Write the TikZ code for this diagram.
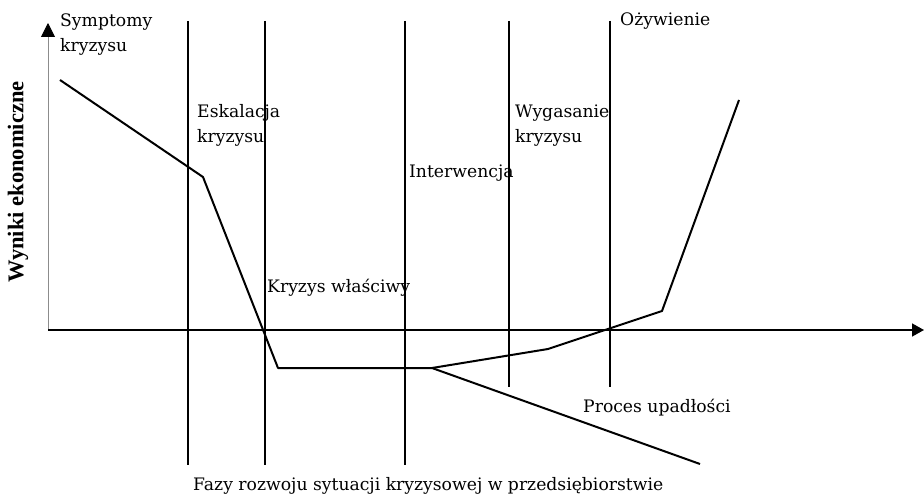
\documentclass[tikz,border=0pt]{standalone}
\usepackage{fontspec}
\setmainfont{DejaVu Serif}
\newfontfamily\axisfont{Liberation Serif}
\usetikzlibrary{arrows.meta}
\begin{document}
\begin{tikzpicture}[x=1pt,y=-1pt,
  phase/.style={line width=1.9pt,black},
  curve/.style={line width=2pt,black,line join=round},
  axisline/.style={line width=1.7pt},
  lbl/.style={anchor=base west,inner sep=0pt,font=\fontsize{17.2}{25}\selectfont,align=left},
]
\useasboundingbox (0,0) rectangle (924,497);
% axes
\coordinate (O) at (48,330);
\coordinate (ytop) at (48,23);
\coordinate (xend) at (924,330);
\draw[line width=0.9pt,black!45,-{Triangle[black,length=14pt,width=14pt]}] (O) -- (ytop);
\draw[axisline,-{Triangle[length=12pt,width=13pt]}] (O) -- (xend);
% phase boundaries
\foreach \n/\x/\b in {a/188/465,b/265/465,c/405/465,d/509/387,e/610/387}{
  \coordinate (\n top) at (\x,21);
  \coordinate (\n bot) at (\x,\b);
  \draw[phase] (\n top) -- (\n bot);
}
% economic results curve
\coordinate (p1) at (60,80);
\coordinate (p2) at (203,177);
\coordinate (p3) at (278,368);
\coordinate (p4) at (432,368);
\coordinate (p5) at (548,349);
\coordinate (p6) at (662,311);
\coordinate (p7) at (739,100);
\coordinate (p8) at (700,464);
\draw[curve] (p1) -- (p2) -- (p3) -- (p4) -- (p5) -- (p6) -- (p7);
\draw[curve] (p4) -- (p8);
% labels (anchored at the baseline of the last line)
\node[lbl] (symptomy) at (60,52) {Symptomy\\kryzysu};
\node[lbl] (eskalacja) at (197,143) {Eskalacja\\kryzysu};
\node[lbl] (interwencja) at (409,178) {Interwencja};
\node[lbl] (wygasanie) at (515,143) {Wygasanie\\kryzysu};
\node[lbl] (ozywienie) at (620,26) {Ożywienie};
\node[lbl] (kryzys) at (267,293) {Kryzys właściwy};
\node[lbl] (upadlosc) at (583,412) {Proces upadłości};
\node[lbl] (fazy) at (193,490) {Fazy rozwoju sytuacji kryzysowej w przedsiębiorstwie};
\node[rotate=90,inner sep=0pt,font=\axisfont\bfseries\fontsize{22.5}{26}\selectfont] (wyniki) at (18,182) {Wyniki ekonomiczne};
\end{tikzpicture}
\end{document}
